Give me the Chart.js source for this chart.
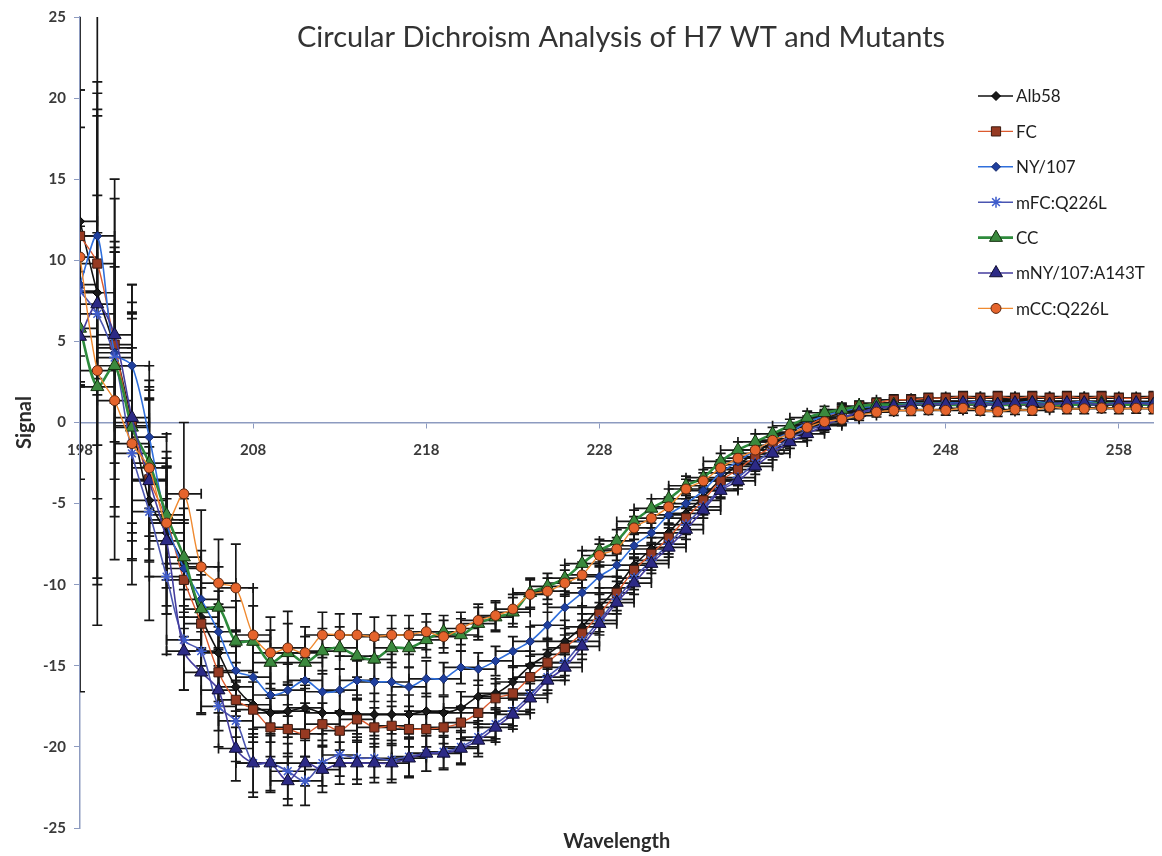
<!DOCTYPE html>
<html>
<head>
<meta charset="utf-8">
<title>Circular Dichroism Analysis of H7 WT and Mutants</title>
<script src="https://cdn.jsdelivr.net/npm/chart.js@4.4.1/dist/chart.umd.min.js"></script>
<style>
  html, body { margin: 0; padding: 0; background: #ffffff; }
  #wrap { width: 1162px; height: 856px; }
</style>
</head>
<body>
<div id="wrap"><canvas id="cdChart" width="1162" height="856"></canvas></div>
<script>
// --- DATA ---
const wavelengths = [198, 199, 200, 201, 202, 203, 204, 205, 206, 207,
  208, 209, 210, 211, 212, 213, 214, 215, 216, 217,
  218, 219, 220, 221, 222, 223, 224, 225, 226, 227,
  228, 229, 230, 231, 232, 233, 234, 235, 236, 237,
  238, 239, 240, 241, 242, 243, 244, 245, 246, 247,
  248, 249, 250, 251, 252, 253, 254, 255, 256, 257,
  258, 259, 260];
const xTickValues = [198, 208, 218, 228, 238, 248, 258];
const seriesNames = ['Alb58', 'FC', 'NY/107', 'mFC:Q226L', 'CC', 'mNY/107:A143T', 'mCC:Q226L'];

const alb58 = [12.4, 8.0, 4.6, 0.0, -4.8, -6.8, -8.7, -12.0, -14.2, -16.3,
  -17.4, -17.9, -17.8, -17.6, -17.9, -17.9, -18.0, -18.0, -18.0, -18.0,
  -17.8, -17.9, -17.6, -16.9, -16.7, -16.0, -15.0, -14.3, -13.5, -12.6,
  -11.4, -10.2, -8.8, -7.8, -6.8, -5.6, -4.6, -3.5, -2.6, -1.9,
  -1.2, -0.6, -0.1, 0.3, 0.6, 0.9, 1.1, 1.2, 1.2, 1.3,
  1.3, 1.3, 1.2, 1.3, 1.4, 1.3, 1.3, 1.3, 1.2, 1.3,
  1.3, 1.2, 1.3];
const fc = [11.5, 9.8, 4.8, -0.2, -3.5, -6.0, -9.7, -12.4, -15.4, -17.1,
  -17.7, -18.8, -18.9, -19.2, -18.6, -19.0, -18.3, -18.8, -18.7, -18.9,
  -18.9, -18.8, -18.5, -17.9, -17.0, -16.7, -15.7, -14.8, -13.9, -13.0,
  -11.8, -10.5, -9.1, -8.1, -7.1, -5.9, -4.8, -3.6, -2.9, -2.1,
  -1.5, -0.8, -0.2, 0.3, 0.7, 1.0, 1.2, 1.4, 1.4, 1.5,
  1.5, 1.6, 1.5, 1.6, 1.5, 1.6, 1.5, 1.6, 1.5, 1.6,
  1.5, 1.5, 1.6];
const ny107 = [8.5, 11.5, 4.3, 3.5, -0.9, -6.2, -9.0, -10.9, -12.9, -15.3,
  -15.7, -16.8, -16.5, -15.9, -16.6, -16.5, -15.9, -16.0, -16.0, -16.3,
  -15.8, -15.8, -15.1, -15.2, -14.7, -14.1, -13.5, -12.5, -11.4, -10.5,
  -9.5, -8.8, -7.6, -6.8, -5.7, -5.0, -4.2, -3.1, -2.4, -1.7,
  -1.1, -0.6, 0.0, 0.4, 0.7, 0.9, 1.0, 1.1, 1.2, 1.2,
  1.2, 1.2, 1.3, 1.2, 1.2, 1.3, 1.2, 1.2, 1.3, 1.2,
  1.2, 1.2, 1.2];
const mfcQ226L = [8.1, 6.7, 4.0, -1.9, -5.5, -9.5, -13.4, -14.1, -17.5, -18.4,
  -21.0, -21.0, -21.5, -22.1, -21.0, -20.5, -20.7, -20.7, -20.8, -20.6,
  -20.4, -20.3, -20.0, -19.4, -18.6, -17.8, -16.8, -15.7, -14.8, -13.5,
  -12.2, -10.9, -9.6, -8.5, -7.5, -6.3, -5.2, -4.1, -3.4, -2.5,
  -1.7, -1.0, -0.5, -0.1, 0.3, 0.6, 0.8, 1.0, 1.1, 1.1,
  1.1, 1.2, 1.1, 1.1, 1.2, 1.1, 1.1, 1.2, 1.1, 1.1,
  1.2, 1.1, 1.1];
const cc = [5.8, 2.2, 3.5, -0.3, -2.5, -5.7, -8.3, -11.5, -11.4, -13.5,
  -13.5, -14.8, -14.2, -14.8, -14.1, -13.9, -14.4, -14.6, -13.9, -13.9,
  -13.4, -12.9, -13.1, -12.4, -12.0, -11.7, -10.5, -10.1, -9.6, -8.7,
  -7.9, -7.3, -6.1, -5.3, -4.7, -3.9, -3.4, -2.4, -1.7, -1.2,
  -0.7, -0.2, 0.3, 0.6, 0.8, 1.0, 1.1, 1.1, 1.1, 1.2,
  1.1, 1.1, 1.2, 1.1, 1.1, 1.2, 1.1, 1.1, 1.1, 1.2,
  1.1, 1.1, 1.1];
const mny107A143T = [5.3, 7.3, 5.4, 0.3, -3.6, -7.3, -14.1, -15.4, -16.5, -20.1,
  -21.0, -21.0, -22.1, -21.0, -21.4, -21.0, -21.0, -21.0, -21.0, -20.7,
  -20.4, -20.4, -20.1, -19.6, -18.8, -18.0, -17.0, -15.9, -15.1, -13.8,
  -12.4, -11.1, -9.9, -8.7, -7.7, -6.6, -5.4, -4.2, -3.6, -2.7,
  -1.9, -1.2, -0.7, -0.2, 0.3, 0.6, 0.9, 1.0, 1.1, 1.2,
  1.1, 1.2, 1.2, 1.1, 1.2, 1.2, 1.1, 1.2, 1.2, 1.1,
  1.2, 1.2, 1.1];
const mccQ226L = [10.2, 3.2, 1.35, -1.3, -2.8, -6.2, -4.4, -8.9, -9.9, -10.2,
  -13.1, -14.2, -13.9, -14.2, -13.1, -13.1, -13.1, -13.2, -13.1, -13.1,
  -12.9, -13.2, -12.7, -12.2, -11.9, -11.5, -10.6, -10.4, -9.9, -9.4,
  -8.2, -7.8, -6.5, -5.9, -5.2, -4.1, -3.6, -2.8, -2.2, -1.7,
  -1.1, -0.7, -0.3, 0.05, 0.2, 0.43, 0.64, 0.74, 0.74, 0.8,
  0.75, 0.88, 0.75, 0.68, 0.8, 0.75, 0.95, 0.85, 0.85, 0.9,
  0.85, 0.88, 0.85];

// y error (+/-) per point
const alb58Err = [29, 18, 10.4, 8.5, 7.4, 5, 4, 3, 3, 2.5,
  2, 1.8, 1.6, 1.4, 1.3, 1.3, 1.2, 1.3, 1.2, 1.2,
  1.1, 1.0, 1.0, 1.0, 0.9, 0.9, 0.9, 0.9, 0.8, 0.8,
  0.8, 0.7, 0.7, 0.7, 0.6, 0.6, 0.6, 0.5, 0.5, 0.5,
  0.5, 0.4, 0.4, 0.4, 0.4, 0.4, 0.3, 0.3, 0.3, 0.3,
  0.3, 0.3, 0.3, 0.3, 0.3, 0.3, 0.3, 0.3, 0.3, 0.3,
  0.3, 0.3, 0.3];
const fcErr = [9, 11.2, 6, 6.6, 5, 5.3, 3.5, 3, 2.5, 2.3,
  2, 1.8, 1.5, 1.4, 1.3, 1.2, 1.3, 1.2, 1.2, 1.1,
  1.1, 1.0, 1.0, 0.9, 0.9, 0.9, 0.8, 0.8, 0.8, 0.8,
  0.7, 0.7, 0.7, 0.6, 0.6, 0.6, 0.5, 0.5, 0.5, 0.5,
  0.4, 0.4, 0.4, 0.4, 0.4, 0.3, 0.3, 0.3, 0.3, 0.3,
  0.3, 0.3, 0.3, 0.3, 0.3, 0.3, 0.3, 0.3, 0.3, 0.3,
  0.3, 0.3, 0.3];
const ny107Err = [12, 8.8, 9.5, 5, 4.4, 4, 3, 3, 2.5, 2.5,
  2, 2, 1.6, 1.4, 1.3, 1.3, 1.2, 1.2, 1.2, 1.2,
  1.1, 1.0, 1.0, 1.0, 0.9, 0.9, 0.9, 0.8, 0.8, 0.8,
  0.7, 0.7, 0.7, 0.6, 0.6, 0.6, 0.5, 0.5, 0.5, 0.5,
  0.4, 0.4, 0.4, 0.4, 0.4, 0.3, 0.3, 0.3, 0.3, 0.3,
  0.3, 0.3, 0.3, 0.3, 0.3, 0.3, 0.3, 0.3, 0.3, 0.3,
  0.3, 0.3, 0.3];
const mfcQ226LErr = [4, 5, 6.5, 6.5, 4, 4.8, 3.1, 3.9, 2.5, 2.5,
  2.1, 1.8, 1.7, 1.5, 1.4, 1.3, 1.3, 1.2, 1.2, 1.2,
  1.1, 1.0, 1.0, 1.0, 0.9, 0.9, 0.9, 0.8, 0.8, 0.8,
  0.7, 0.7, 0.7, 0.6, 0.6, 0.6, 0.5, 0.5, 0.5, 0.5,
  0.4, 0.4, 0.4, 0.4, 0.4, 0.3, 0.3, 0.3, 0.3, 0.3,
  0.3, 0.3, 0.3, 0.3, 0.3, 0.3, 0.3, 0.3, 0.3, 0.3,
  0.3, 0.3, 0.3];
const ccErr = [3.5, 11.8, 7, 7, 4.5, 3, 3, 2.5, 2.5, 2.5,
  2.2, 2.0, 1.8, 1.6, 1.4, 1.3, 1.3, 1.2, 1.2, 1.2,
  1.1, 1.0, 1.0, 1.0, 0.9, 0.9, 0.9, 0.8, 0.8, 0.8,
  0.7, 0.7, 0.7, 0.6, 0.6, 0.6, 0.5, 0.5, 0.5, 0.5,
  0.4, 0.4, 0.4, 0.4, 0.4, 0.3, 0.3, 0.3, 0.3, 0.3,
  0.3, 0.3, 0.3, 0.3, 0.3, 0.3, 0.3, 0.3, 0.3, 0.3,
  0.3, 0.3, 0.3];
const mny107A143TErr = [3, 12, 4.2, 6.5, 5, 4.5, 2.4, 2.5, 2.5, 2,
  1.8, 1.7, 1.5, 1.4, 1.4, 1.3, 1.3, 1.2, 1.2, 1.2,
  1.1, 1.0, 1.0, 1.0, 0.9, 0.9, 0.9, 0.8, 0.8, 0.8,
  0.7, 0.7, 0.7, 0.6, 0.6, 0.6, 0.5, 0.5, 0.5, 0.5,
  0.4, 0.4, 0.4, 0.4, 0.4, 0.3, 0.3, 0.3, 0.3, 0.3,
  0.3, 0.3, 0.3, 0.3, 0.3, 0.3, 0.3, 0.3, 0.3, 0.3,
  0.3, 0.3, 0.3];
const mccQ226LErr = [8, 15.7, 9.8, 8.7, 5, 3.5, 4.4, 3.5, 2.7, 2.7,
  2.9, 2.2, 2.25, 1.6, 1.4, 1.3, 1.3, 1.2, 1.2, 1.2,
  1.1, 1.0, 1.0, 1.0, 0.9, 0.9, 0.9, 0.8, 0.8, 0.8,
  0.7, 0.7, 0.7, 0.6, 0.6, 0.6, 0.5, 0.5, 0.5, 0.5,
  0.4, 0.4, 0.4, 0.4, 0.4, 0.3, 0.3, 0.3, 0.3, 0.3,
  0.3, 0.3, 0.3, 0.3, 0.3, 0.3, 0.3, 0.3, 0.3, 0.3,
  0.3, 0.3, 0.3];
const xErr = 1; // horizontal error bar, +/- nm

const seriesValues = [alb58, fc, ny107, mfcQ226L, cc, mny107A143T, mccQ226L];
const seriesErrors = [alb58Err, fcErr, ny107Err, mfcQ226LErr, ccErr, mny107A143TErr, mccQ226LErr];

// --- LOOK ---
const AXIS_COLOR = '#8d9bc0';
const TEXT_COLOR = '#3a3a3a';
const FONT = 'Lato, "Open Sans", sans-serif';

const seriesStyles = [
  { line: '#111111', width: 1.6, shape: 'rectRot', r: 4.5, fill: '#1a1a1a', edge: '#000000' },
  { line: '#dc5a2e', width: 1.4, shape: 'rect', r: 6.5, fill: '#963a22', edge: '#3b1a10' },
  { line: '#2f6fdc', width: 1.6, shape: 'rectRot', r: 4.5, fill: '#1f3f9e', edge: '#14286a' },
  { line: '#4a55b0', width: 1.6, shape: 'star', r: 5.5, fill: '#3e5ccc', edge: '#3e5ccc' },
  { line: '#2e8b3c', width: 2.6, shape: 'triangle', r: 7.5, fill: '#3b8a3e', edge: '#14300f' },
  { line: '#443c9e', width: 1.6, shape: 'triangle', r: 7.5, fill: '#2c2a86', edge: '#0e0c30' },
  { line: '#f08a30', width: 1.4, shape: 'circle', r: 5, fill: '#e5642c', edge: '#5a2810' }
];

// draws a marker the same way Chart.js shapes its points
function drawMarker(ctx, st, x, y) {
  const r = st.r;
  ctx.save();
  ctx.fillStyle = st.fill;
  ctx.strokeStyle = st.edge;
  ctx.lineWidth = 1;
  ctx.beginPath();
  if (st.shape === 'circle') {
    ctx.arc(x, y, r, 0, Math.PI * 2);
  } else if (st.shape === 'rect') {
    const h = r * Math.SQRT1_2;
    ctx.rect(x - h, y - h, 2 * h, 2 * h);
  } else if (st.shape === 'rectRot') {
    ctx.moveTo(x, y - r); ctx.lineTo(x + r, y); ctx.lineTo(x, y + r); ctx.lineTo(x - r, y);
    ctx.closePath();
  } else if (st.shape === 'triangle') {
    let a = 0;
    ctx.moveTo(x + Math.sin(a) * r, y - Math.cos(a) * r);
    a += 2 * Math.PI / 3;
    ctx.lineTo(x + Math.sin(a) * r, y - Math.cos(a) * r);
    a += 2 * Math.PI / 3;
    ctx.lineTo(x + Math.sin(a) * r, y - Math.cos(a) * r);
    ctx.closePath();
  } else if (st.shape === 'star') {
    ctx.moveTo(x, y - r); ctx.lineTo(x, y + r);
    ctx.moveTo(x - r, y); ctx.lineTo(x + r, y);
    const d = r * Math.SQRT1_2;
    ctx.moveTo(x - d, y - d); ctx.lineTo(x + d, y + d);
    ctx.moveTo(x - d, y + d); ctx.lineTo(x + d, y - d);
    ctx.strokeStyle = st.fill;
    ctx.lineWidth = 1.5;
    ctx.stroke();
    ctx.restore();
    return;
  }
  ctx.fill();
  ctx.stroke();
  ctx.restore();
}

// --- ERROR BARS (both directions, under the markers) ---
const errorBarPlugin = {
  id: 'errorBars',
  beforeDatasetsDraw(chart) {
    const { ctx, chartArea, scales } = chart;
    const xs = scales.x, ys = scales.y;
    ctx.save();
    ctx.beginPath();
    ctx.rect(chartArea.left, chartArea.top, chartArea.right - chartArea.left, chartArea.bottom - chartArea.top);
    ctx.clip();
    ctx.strokeStyle = '#161616';
    ctx.lineWidth = 1.7;
    const cap = 5;
    seriesValues.forEach((vals, s) => {
      const errs = seriesErrors[s];
      vals.forEach((v, i) => {
        const px = xs.getPixelForValue(wavelengths[i]);
        const py = ys.getPixelForValue(v);
        const top = ys.getPixelForValue(v + errs[i]);
        const bot = ys.getPixelForValue(v - errs[i]);
        const lft = xs.getPixelForValue(wavelengths[i] - xErr);
        const rgt = xs.getPixelForValue(wavelengths[i] + xErr);
        ctx.beginPath();
        ctx.moveTo(px, top); ctx.lineTo(px, bot);
        ctx.moveTo(px - cap, top); ctx.lineTo(px + cap, top);
        ctx.moveTo(px - cap, bot); ctx.lineTo(px + cap, bot);
        ctx.moveTo(lft, py); ctx.lineTo(rgt, py);
        ctx.moveTo(lft, py - cap); ctx.lineTo(lft, py + cap);
        ctx.moveTo(rgt, py - cap); ctx.lineTo(rgt, py + cap);
        ctx.stroke();
      });
    });
    ctx.restore();
  }
};

// --- TITLE + LEGEND drawn over the plot, like the original ---
const overlayPlugin = {
  id: 'overlay',
  afterDraw(chart) {
    const ctx = chart.ctx;
    ctx.save();
    ctx.fillStyle = '#333333';
    ctx.font = '29px ' + FONT;
    ctx.textAlign = 'center';
    ctx.textBaseline = 'middle';
    ctx.fillText('Circular Dichroism Analysis of H7 WT and Mutants', 621, 38);

    ctx.font = '17px ' + FONT;
    ctx.textAlign = 'left';
    ctx.fillStyle = '#1e1e1e';
    seriesNames.forEach((name, i) => {
      const st = seriesStyles[i];
      const y = 96 + i * 35.4;
      ctx.strokeStyle = st.line;
      ctx.lineWidth = st.width;
      ctx.beginPath();
      ctx.moveTo(978, y); ctx.lineTo(1013, y);
      ctx.stroke();
      drawMarker(ctx, st, 996, y);
      ctx.fillText(name, 1016, y + 1);
    });
    ctx.restore();
  }
};

const datasets = seriesNames.map((name, i) => {
  const st = seriesStyles[i];
  return {
    label: name,
    data: wavelengths.map((w, k) => ({ x: w, y: seriesValues[i][k] })),
    borderColor: st.line,
    borderWidth: st.width,
    backgroundColor: st.fill,
    pointStyle: st.shape,
    pointRadius: st.r,
    pointBackgroundColor: st.fill,
    pointBorderColor: st.shape === 'star' ? st.fill : st.edge,
    pointBorderWidth: st.shape === 'star' ? 1.5 : 1,
    tension: 0.3,
    fill: false,
    order: seriesNames.length - 1 - i
  };
});

new Chart(document.getElementById('cdChart'), {
  type: 'line',
  data: { datasets },
  options: {
    responsive: false,
    animation: false,
    layout: { padding: { top: 16, right: 5, left: 0, bottom: 0 } },
    plugins: {
      legend: { display: false },
      tooltip: { enabled: false },
      subtitle: {
        display: true,
        position: 'bottom',
        fullSize: false,
        text: 'Wavelength',
        color: '#2a2a2a',
        font: { family: FONT, size: 20, weight: 'bold' },
        padding: { top: 2, bottom: 2 }
      }
    },
    scales: {
      x: {
        type: 'linear',
        min: 198,
        max: 260,
        position: { y: 0 },
        afterFit(s) { s.height = 0; },
        afterBuildTicks(s) { s.ticks = xTickValues.map(v => ({ value: v })); },
        border: { color: AXIS_COLOR, width: 1.5 },
        grid: { drawOnChartArea: false, drawTicks: true, tickLength: 5, color: AXIS_COLOR },
        ticks: {
          autoSkip: false,
          maxRotation: 0,
          padding: 14,
          color: TEXT_COLOR,
          font: { family: FONT, size: 15, weight: 'bold' },
          callback: v => String(v)
        }
      },
      y: {
        type: 'linear',
        position: 'left',
        min: -25,
        max: 25,
        afterFit(s) { s.width = 80; },
        border: { color: AXIS_COLOR, width: 1.5 },
        grid: { drawOnChartArea: false, drawTicks: true, tickLength: 6, color: AXIS_COLOR },
        ticks: {
          stepSize: 5,
          padding: 8,
          color: TEXT_COLOR,
          font: { family: FONT, size: 15, weight: 'bold' }
        },
        title: {
          display: true,
          text: 'Signal',
          color: '#2a2a2a',
          font: { family: FONT, size: 20, weight: 'bold' },
          padding: { top: 13, bottom: 0 }
        }
      }
    }
  },
  plugins: [errorBarPlugin, overlayPlugin]
});
</script>
</body>
</html>
